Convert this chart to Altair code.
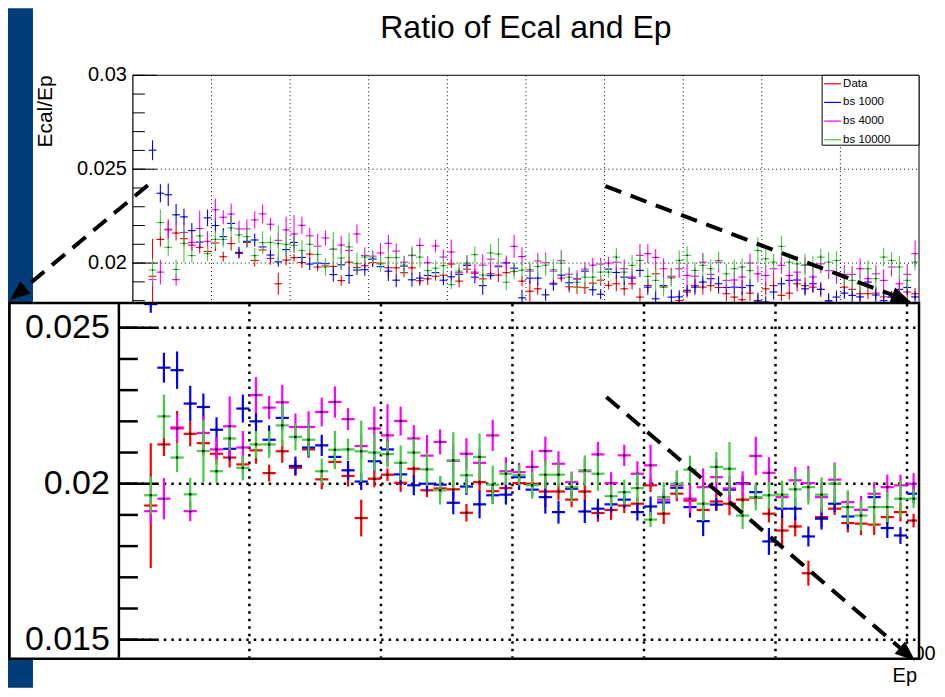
import altair as alt
import pandas as pd

FONT = "Liberation Sans"

TITLE = "Ratio of Ecal and Ep"
Y_TITLE = "Ecal/Ep"
X_TITLE = "Ep"

SERIES = ["Data", "bs 1000", "bs 4000", "bs 10000"]
COLORS = ["#ff0000", "#0000ff", "#ff00ff", "#44cc44"]

EP = [12.5, 17.5, 22.5, 27.5, 32.5, 37.5, 42.5, 47.5, 52.5, 57.5,
      62.5, 67.5, 72.5, 77.5, 82.5, 87.5, 92.5, 97.5, 102.5, 107.5,
      112.5, 117.5, 122.5, 127.5, 132.5, 137.5, 142.5, 147.5, 152.5, 157.5,
      162.5, 167.5, 172.5, 177.5, 182.5, 187.5, 192.5, 197.5, 202.5, 207.5,
      212.5, 217.5, 222.5, 227.5, 232.5, 237.5, 242.5, 247.5, 252.5, 257.5,
      262.5, 267.5, 272.5, 277.5, 282.5, 287.5, 292.5, 297.5, 302.5, 307.5,
      312.5, 317.5, 322.5, 327.5, 332.5, 337.5, 342.5, 347.5, 352.5, 357.5,
      362.5, 367.5, 372.5, 377.5, 382.5, 387.5, 392.5, 397.5, 402.5, 407.5,
      412.5, 417.5, 422.5, 427.5, 432.5, 437.5, 442.5, 447.5, 452.5, 457.5,
      462.5, 467.5, 472.5, 477.5, 482.5, 487.5, 492.5, 497.5]
BIN_HALF = 2.5

DATA_V = [0.01930, 0.02126, 0.02180, 0.02160, 0.02130, 0.02096, 0.02084, 0.02062, 0.02107, 0.02034,
          0.02104, 0.02051, 0.02110, 0.02014, 0.02070, 0.02025, 0.01890, 0.02016, 0.02029, 0.02003,
          0.02048, 0.01979, 0.01985, 0.01982, 0.01907, 0.02005, 0.01976, 0.01986, 0.02002, 0.02000,
          0.01975, 0.01975, 0.01949, 0.01975, 0.01906, 0.01916, 0.01930, 0.01936, 0.01995, 0.01904,
          0.01968, 0.01946, 0.01916, 0.01943, 0.01936, 0.01949, 0.01955, 0.01904, 0.01850, 0.01863,
          0.01713, 0.01893, 0.01920, 0.01874, 0.01872, 0.01869, 0.01893, 0.01909, 0.01882, 0.01890,
          0.01863, 0.01890, 0.01819, 0.01881, 0.01943, 0.01872, 0.01926, 0.01801, 0.01846, 0.01880,
          0.01872, 0.01880, 0.01870, 0.01837, 0.01819, 0.01805, 0.01840, 0.01800, 0.01863, 0.01880,
          0.01828, 0.01840, 0.01890, 0.01880, 0.01872, 0.01860, 0.01793, 0.01790, 0.01872, 0.01860,
          0.01837, 0.01837, 0.01840, 0.01820, 0.01820, 0.01820, 0.01846, 0.01837]
DATA_E = [0.00200, 0.00037, 0.00053, 0.00040, 0.00040, 0.00035, 0.00032, 0.00030, 0.00043, 0.00027,
          0.00037, 0.00025, 0.00027, 0.00032, 0.00022, 0.00034, 0.00059, 0.00027, 0.00020, 0.00029,
          0.00027, 0.00022, 0.00025, 0.00032, 0.00028, 0.00030, 0.00027, 0.00022, 0.00022, 0.00022,
          0.00050, 0.00027, 0.00024, 0.00032, 0.00028, 0.00032, 0.00024, 0.00022, 0.00022, 0.00033,
          0.00024, 0.00022, 0.00032, 0.00029, 0.00037, 0.00027, 0.00022, 0.00028, 0.00056, 0.00032,
          0.00040, 0.00032, 0.00020, 0.00030, 0.00037, 0.00033, 0.00022, 0.00030, 0.00022, 0.00040,
          0.00035, 0.00030, 0.00050, 0.00035, 0.00040, 0.00030, 0.00045, 0.00040, 0.00030, 0.00035,
          0.00040, 0.00030, 0.00035, 0.00040, 0.00030, 0.00045, 0.00040, 0.00030, 0.00035, 0.00040,
          0.00030, 0.00035, 0.00040, 0.00045, 0.00030, 0.00040, 0.00035, 0.00030, 0.00040, 0.00035,
          0.00040, 0.00030, 0.00035, 0.00040, 0.00030, 0.00035, 0.00040, 0.00030]

BS1000_V = [0.02601, 0.02372, 0.02364, 0.02257, 0.02246, 0.02173, 0.02112, 0.02241, 0.02200, 0.02141,
            0.02211, 0.02057, 0.02116, 0.02123, 0.02086, 0.02043, 0.02007, 0.02072, 0.02110, 0.02030,
            0.01995, 0.02000, 0.01997, 0.01939, 0.01991, 0.01934, 0.01963, 0.01965, 0.02021, 0.01981,
            0.01957, 0.01909, 0.01984, 0.01911, 0.01920, 0.01934, 0.01949, 0.01909, 0.01927, 0.01940,
            0.01987, 0.01925, 0.01880, 0.01933, 0.01981, 0.02002, 0.01973, 0.01815, 0.01920, 0.01920,
            0.01831, 0.01888, 0.01936, 0.01895, 0.01916, 0.01957, 0.01858, 0.01834, 0.01968, 0.01950,
            0.01925, 0.01920, 0.01961, 0.01872, 0.01810, 0.01880, 0.01819, 0.01820, 0.01855, 0.01872,
            0.01899, 0.01917, 0.01890, 0.01870, 0.01872, 0.01870, 0.01880, 0.01798, 0.01793, 0.01846,
            0.01890, 0.01908, 0.01910, 0.01863, 0.01890, 0.01860, 0.01800, 0.01819, 0.01840, 0.01828,
            0.01820, 0.01899, 0.01830, 0.01800, 0.01819, 0.01860, 0.01870, 0.01820]
BS1000_E = [0.00053, 0.00048, 0.00060, 0.00057, 0.00043, 0.00040, 0.00037, 0.00045, 0.00040, 0.00046,
            0.00040, 0.00030, 0.00030, 0.00034, 0.00022, 0.00030, 0.00027, 0.00032, 0.00032, 0.00034,
            0.00032, 0.00027, 0.00027, 0.00037, 0.00027, 0.00045, 0.00027, 0.00032, 0.00040, 0.00022,
            0.00053, 0.00037, 0.00024, 0.00037, 0.00032, 0.00027, 0.00027, 0.00027, 0.00032, 0.00030,
            0.00027, 0.00034, 0.00048, 0.00020, 0.00022, 0.00022, 0.00027, 0.00043, 0.00030, 0.00037,
            0.00032, 0.00035, 0.00027, 0.00040, 0.00030, 0.00022, 0.00032, 0.00027, 0.00030, 0.00035,
            0.00040, 0.00030, 0.00035, 0.00040, 0.00045, 0.00030, 0.00040, 0.00035, 0.00030, 0.00040,
            0.00035, 0.00030, 0.00040, 0.00035, 0.00030, 0.00040, 0.00035, 0.00045, 0.00030, 0.00040,
            0.00035, 0.00030, 0.00040, 0.00035, 0.00045, 0.00030, 0.00040, 0.00035, 0.00030, 0.00040,
            0.00035, 0.00030, 0.00040, 0.00045, 0.00030, 0.00035, 0.00040, 0.00030]

BS4000_V = [0.01912, 0.01952, 0.02177, 0.01912, 0.02163, 0.02110, 0.02184, 0.02116, 0.02284, 0.02244,
            0.02261, 0.02182, 0.02182, 0.02230, 0.02262, 0.02207, 0.02121, 0.02177, 0.02155, 0.02201,
            0.02145, 0.02090, 0.02134, 0.02073, 0.02096, 0.02067, 0.02155, 0.02040, 0.02037, 0.02054,
            0.02105, 0.02064, 0.02005, 0.02040, 0.02094, 0.02002, 0.02091, 0.02032, 0.02059, 0.01949,
            0.01995, 0.01952, 0.01989, 0.02021, 0.01985, 0.02000, 0.02089, 0.02035, 0.01957, 0.02011,
            0.02002, 0.01957, 0.02013, 0.01941, 0.01916, 0.01968, 0.01989, 0.01995, 0.02000, 0.02005,
            0.01970, 0.01926, 0.02041, 0.02050, 0.02030, 0.01970, 0.01930, 0.01970, 0.01934, 0.01930,
            0.02005, 0.01940, 0.02005, 0.01908, 0.01910, 0.01926, 0.02000, 0.01943, 0.01934, 0.01970,
            0.01988, 0.01934, 0.01952, 0.01988, 0.01926, 0.01996, 0.01960, 0.01950, 0.01940, 0.01940,
            0.01970, 0.01917, 0.01943, 0.01908, 0.01979, 0.01890, 0.01940, 0.02050]
BS4000_E = [0.00037, 0.00066, 0.00045, 0.00032, 0.00053, 0.00040, 0.00096, 0.00053, 0.00058, 0.00037,
            0.00056, 0.00043, 0.00050, 0.00046, 0.00050, 0.00035, 0.00040, 0.00070, 0.00100, 0.00046,
            0.00043, 0.00066, 0.00040, 0.00053, 0.00050, 0.00045, 0.00050, 0.00045, 0.00030, 0.00053,
            0.00046, 0.00040, 0.00034, 0.00040, 0.00040, 0.00035, 0.00034, 0.00040, 0.00066, 0.00030,
            0.00045, 0.00045, 0.00060, 0.00058, 0.00040, 0.00040, 0.00062, 0.00050, 0.00040, 0.00043,
            0.00055, 0.00050, 0.00055, 0.00035, 0.00045, 0.00037, 0.00040, 0.00034, 0.00034, 0.00045,
            0.00050, 0.00045, 0.00060, 0.00050, 0.00045, 0.00055, 0.00045, 0.00050, 0.00060, 0.00045,
            0.00050, 0.00045, 0.00055, 0.00050, 0.00045, 0.00060, 0.00050, 0.00045, 0.00055, 0.00050,
            0.00045, 0.00060, 0.00050, 0.00045, 0.00055, 0.00050, 0.00045, 0.00060, 0.00050, 0.00045,
            0.00055, 0.00050, 0.00045, 0.00060, 0.00050, 0.00045, 0.00055, 0.00070]

BS10000_V = [0.01963, 0.02216, 0.02084, 0.01966, 0.02105, 0.02040, 0.02145, 0.02051, 0.02126, 0.02126,
             0.02187, 0.02150, 0.02141, 0.02040, 0.02109, 0.02110, 0.02104, 0.02100, 0.02095, 0.02067,
             0.02100, 0.02046, 0.01979, 0.02075, 0.02027, 0.02086, 0.01997, 0.02032, 0.02027, 0.01995,
             0.02029, 0.02029, 0.01989, 0.02043, 0.02032, 0.01960, 0.01973, 0.01986, 0.01885, 0.01957,
             0.02000, 0.02045, 0.01936, 0.02054, 0.02048, 0.01898, 0.01957, 0.01963, 0.01965, 0.01982,
             0.01989, 0.01965, 0.02000, 0.01925, 0.01898, 0.01925, 0.01925, 0.01952, 0.01952, 0.02032,
             0.01952, 0.01988, 0.02014, 0.01929, 0.01908, 0.01872, 0.01920, 0.02014, 0.02041, 0.01961,
             0.01988, 0.01970, 0.02014, 0.01943, 0.01970, 0.01979, 0.01960, 0.02067, 0.02023, 0.02005,
             0.02089, 0.02005, 0.01996, 0.01990, 0.01988, 0.02032, 0.02005, 0.02014, 0.01926, 0.01908,
             0.01890, 0.01970, 0.01917, 0.02032, 0.02014, 0.01979, 0.01908, 0.02005]
BS10000_E = [0.00060, 0.00070, 0.00047, 0.00053, 0.00100, 0.00037, 0.00037, 0.00040, 0.00043, 0.00043,
             0.00067, 0.00043, 0.00054, 0.00040, 0.00060, 0.00035, 0.00098, 0.00059, 0.00043, 0.00056,
             0.00045, 0.00052, 0.00046, 0.00090, 0.00058, 0.00075, 0.00061, 0.00034, 0.00032, 0.00043,
             0.00045, 0.00040, 0.00048, 0.00048, 0.00055, 0.00035, 0.00040, 0.00048, 0.00024, 0.00048,
             0.00043, 0.00045, 0.00056, 0.00048, 0.00086, 0.00043, 0.00043, 0.00043, 0.00045, 0.00054,
             0.00056, 0.00056, 0.00064, 0.00054, 0.00048, 0.00061, 0.00048, 0.00059, 0.00030, 0.00050,
             0.00045, 0.00055, 0.00050, 0.00045, 0.00060, 0.00050, 0.00045, 0.00055, 0.00050, 0.00045,
             0.00060, 0.00050, 0.00045, 0.00055, 0.00050, 0.00045, 0.00060, 0.00070, 0.00050, 0.00045,
             0.00055, 0.00050, 0.00045, 0.00060, 0.00050, 0.00045, 0.00055, 0.00050, 0.00045, 0.00060,
             0.00050, 0.00045, 0.00055, 0.00050, 0.00045, 0.00060, 0.00050, 0.00045]

VALUES = [DATA_V, BS1000_V, BS4000_V, BS10000_V]
ERRORS = [DATA_E, BS1000_E, BS4000_E, BS10000_E]

# axis ticks / labels
MAIN_Y_MAJOR = [0.0, 0.005, 0.01, 0.015, 0.02, 0.025, 0.03]
MAIN_Y_LABELS = ["0", "0.005", "0.01", "0.015", "0.02", "0.025", "0.03"]
MAIN_Y_MINOR = [k / 1000 for k in range(31)]
MAIN_X_MAJOR = [0, 50, 100, 150, 200, 250, 300, 350, 400, 450, 500]
MAIN_X_LABELS = ["0", "50", "100", "150", "200", "250", "300", "350", "400", "450", "500"]
MAIN_GRID_X = [50, 100, 150, 200, 250, 300, 350, 400, 450]
MAIN_GRID_Y = [0.005, 0.01, 0.015, 0.02, 0.025]

INSET_Y_MAJOR = [0.015, 0.02, 0.025]
INSET_Y_LABELS = ["0.015", "0.02", "0.025"]
INSET_Y_MINOR = [k / 1000 for k in range(15, 26)]
INSET_GRID_X = [50, 100, 150, 200, 250, 300]
INSET_X_MAX = 303.8

# ---------------- data frames ----------------
frames = []
for name, vals, errs in zip(SERIES, VALUES, ERRORS):
    d = pd.DataFrame({"ep": EP, "v": vals, "e": errs})
    d["series"] = name
    d["lo"] = d["v"] - d["e"]
    d["hi"] = d["v"] + d["e"]
    d["x0"] = d["ep"] - BIN_HALF
    d["x1"] = d["ep"] + BIN_HALF
    frames.append(d)

ONE = pd.DataFrame({"k": [0]})

# scales (pixel ranges inside one 930x680 drawing area)
MX = alt.Scale(domain=[0, 500], range=[125, 912], nice=False, zero=False)
MY = alt.Scale(domain=[0, 0.03], range=[631, 67], nice=False, zero=False)
IX = alt.Scale(domain=[0, INSET_X_MAX], range=[110, 910], nice=False, zero=False, clamp=True)
IY = alt.Scale(domain=[0.014424, 0.02576], range=[650, 296], nice=False, zero=False, clamp=True)


def rect(x, x2, y, y2, **kw):
    return alt.Chart(ONE).mark_rect(**kw).encode(
        x=alt.value(x), x2=alt.value(x2), y=alt.value(y), y2=alt.value(y2))


def line(x, y, x2, y2, **kw):
    return alt.Chart(ONE).mark_rule(**kw).encode(
        x=alt.value(x), y=alt.value(y), x2=alt.value(x2), y2=alt.value(y2))


def vgrid(vals, xs, y0, y1, dash, sw):
    return alt.Chart(pd.DataFrame({"g": vals})).mark_rule(
        color="black", strokeDash=dash, strokeWidth=sw).encode(
        x=alt.X("g:Q", scale=xs, axis=None), y=alt.value(y0), y2=alt.value(y1))


def hgrid(vals, ys, x0, x1, dash, sw):
    return alt.Chart(pd.DataFrame({"g": vals})).mark_rule(
        color="black", strokeDash=dash, strokeWidth=sw).encode(
        y=alt.Y("g:Q", scale=ys, axis=None), x=alt.value(x0), x2=alt.value(x1))


def yticks(vals, ys, x0, x1, sw):
    return alt.Chart(pd.DataFrame({"g": vals})).mark_rule(
        color="black", strokeWidth=sw).encode(
        y=alt.Y("g:Q", scale=ys, axis=None), x=alt.value(x0), x2=alt.value(x1))


def ylabels(vals, labs, ys, x, size):
    return alt.Chart(pd.DataFrame({"g": vals, "lab": labs})).mark_text(
        align="right", baseline="middle", fontSize=size, font=FONT, color="black").encode(
        y=alt.Y("g:Q", scale=ys, axis=None), x=alt.value(x), text="lab:N")


def series_layers(d, color, xs, ys, sw, msize):
    b = alt.Chart(d)
    vert = b.mark_rule(color=color, strokeWidth=sw).encode(
        x=alt.X("ep:Q", scale=xs, axis=None),
        y=alt.Y("lo:Q", scale=ys, axis=None), y2="hi:Q")
    horiz = b.mark_rule(color=color, strokeWidth=sw).encode(
        x=alt.X("x0:Q", scale=xs, axis=None), x2="x1:Q",
        y=alt.Y("v:Q", scale=ys, axis=None))
    dot = b.mark_square(color="black", size=msize, opacity=1).encode(
        x=alt.X("ep:Q", scale=xs, axis=None),
        y=alt.Y("v:Q", scale=ys, axis=None))
    return [vert, horiz, dot]


# ---------------- main (full) plot ----------------
main_layers = [
    rect(0, 25, 0, 680, fill="#003d79"),
    alt.Chart(ONE).mark_text(text=TITLE, fontSize=32, font=FONT, align="center",
                             baseline="alphabetic", color="black").encode(
        x=alt.value(518.5), y=alt.value(30)),
    vgrid(MAIN_GRID_X, MX, 67, 631, [1, 3], 1),
    hgrid(MAIN_GRID_Y, MY, 125, 912, [1, 3], 1),
    yticks(MAIN_Y_MINOR, MY, 125, 137, 1),
    yticks(MAIN_Y_MAJOR, MY, 125, 149, 1),
    line(125, 67, 125, 631, color="black", strokeWidth=1.2),
    line(125, 67, 912, 67, color="black", strokeWidth=1),
    line(912, 67, 912, 631, color="black", strokeWidth=1),
    line(125, 631, 912, 631, color="black", strokeWidth=1.2),
    ylabels(MAIN_Y_MAJOR, MAIN_Y_LABELS, MY, 119, 20),
    alt.Chart(pd.DataFrame({"g": MAIN_X_MAJOR, "lab": MAIN_X_LABELS})).mark_text(
        align="center", baseline="top", fontSize=20, font=FONT, color="black").encode(
        x=alt.X("g:Q", scale=MX, axis=None), y=alt.value(636), text="lab:N"),
    alt.Chart(ONE).mark_text(text=Y_TITLE, fontSize=21, font=FONT, align="right",
                             baseline="alphabetic", angle=270, color="black").encode(
        x=alt.value(44), y=alt.value(67)),
    alt.Chart(ONE).mark_text(text=X_TITLE, fontSize=20, font=FONT, align="right",
                             baseline="alphabetic", color="black").encode(
        x=alt.value(910), y=alt.value(674)),
]
for d, c in zip(frames, COLORS):
    main_layers += series_layers(d, c, MX, MY, 1.1, 1.5)
main = alt.layer(*main_layers)

# ---------------- inset (zoomed copy) ----------------
inset_layers = [
    rect(1.5, 912, 295, 651, fill="white"),
    vgrid(INSET_GRID_X, IX, 296, 650, [2.5, 5], 2.5),
    hgrid(INSET_Y_MAJOR, IY, 111, 910, [2.5, 5], 2.5),
    yticks(INSET_Y_MINOR, IY, 111, 130, 2.5),
    yticks(INSET_Y_MAJOR, IY, 111, 149, 2.5),
    line(111, 296, 111, 650, color="black", strokeWidth=2.5),
    ylabels(INSET_Y_MAJOR, INSET_Y_LABELS, IY, 102, 34),
]
for d, c in zip(frames, COLORS):
    di = d[d["ep"] <= INSET_X_MAX]
    inset_layers += series_layers(di, c, IX, IY, 2.2, 5)
inset_layers.append(rect(1.5, 912, 295, 651, fillOpacity=0, stroke="black", strokeWidth=2.5))
inset = alt.layer(*inset_layers)

# ---------------- legend ----------------
leg_df = pd.DataFrame({"series": SERIES, "color": COLORS})
LY = alt.Scale(type="point", domain=SERIES, range=[75.5, 131.5], padding=0)
legend = alt.layer(
    rect(815, 912, 67, 137, fill="white", stroke="black", strokeWidth=1),
    alt.Chart(leg_df).mark_rule(strokeWidth=1.2).encode(
        y=alt.Y("series:N", scale=LY, axis=None), x=alt.value(817), x2=alt.value(834),
        color=alt.Color("color:N", scale=None, legend=None)),
    alt.Chart(leg_df).mark_text(align="left", baseline="middle", fontSize=11.5, font=FONT,
                                color="black").encode(
        y=alt.Y("series:N", scale=LY, axis=None), x=alt.value(836), text="series:N"),
)

# ---------------- dashed arrows ----------------
HEAD = "M0,-1L0.8,1L-0.8,1Z"


def head(x, y, ang):
    return alt.Chart(ONE).mark_point(shape=HEAD, filled=True, color="black", size=400,
                                     angle=ang, opacity=1, strokeWidth=0).encode(
        x=alt.value(x), y=alt.value(y))


DASH = dict(color="black", strokeWidth=4, strokeDash=[17, 10], strokeCap="butt")
arrows = alt.layer(
    line(140, 177, 17.4, 279.2, **DASH),
    head(9.7, 285.6, 230.2),
    line(598, 178, 885.3, 286.9, **DASH),
    head(894.6, 290.5, 110.8),
    line(599, 389, 892.8, 640, **DASH),
    head(900.4, 646.5, 130.5),
)

chart = alt.layer(main, inset, legend, arrows).resolve_scale(
    x="independent", y="independent"
).properties(
    width=930, height=680, padding=0,
    autosize=alt.AutoSizeParams(type="none"),
).configure_view(stroke=None)

chart.save("out.html", embed_options={"renderer": "svg", "actions": False})
